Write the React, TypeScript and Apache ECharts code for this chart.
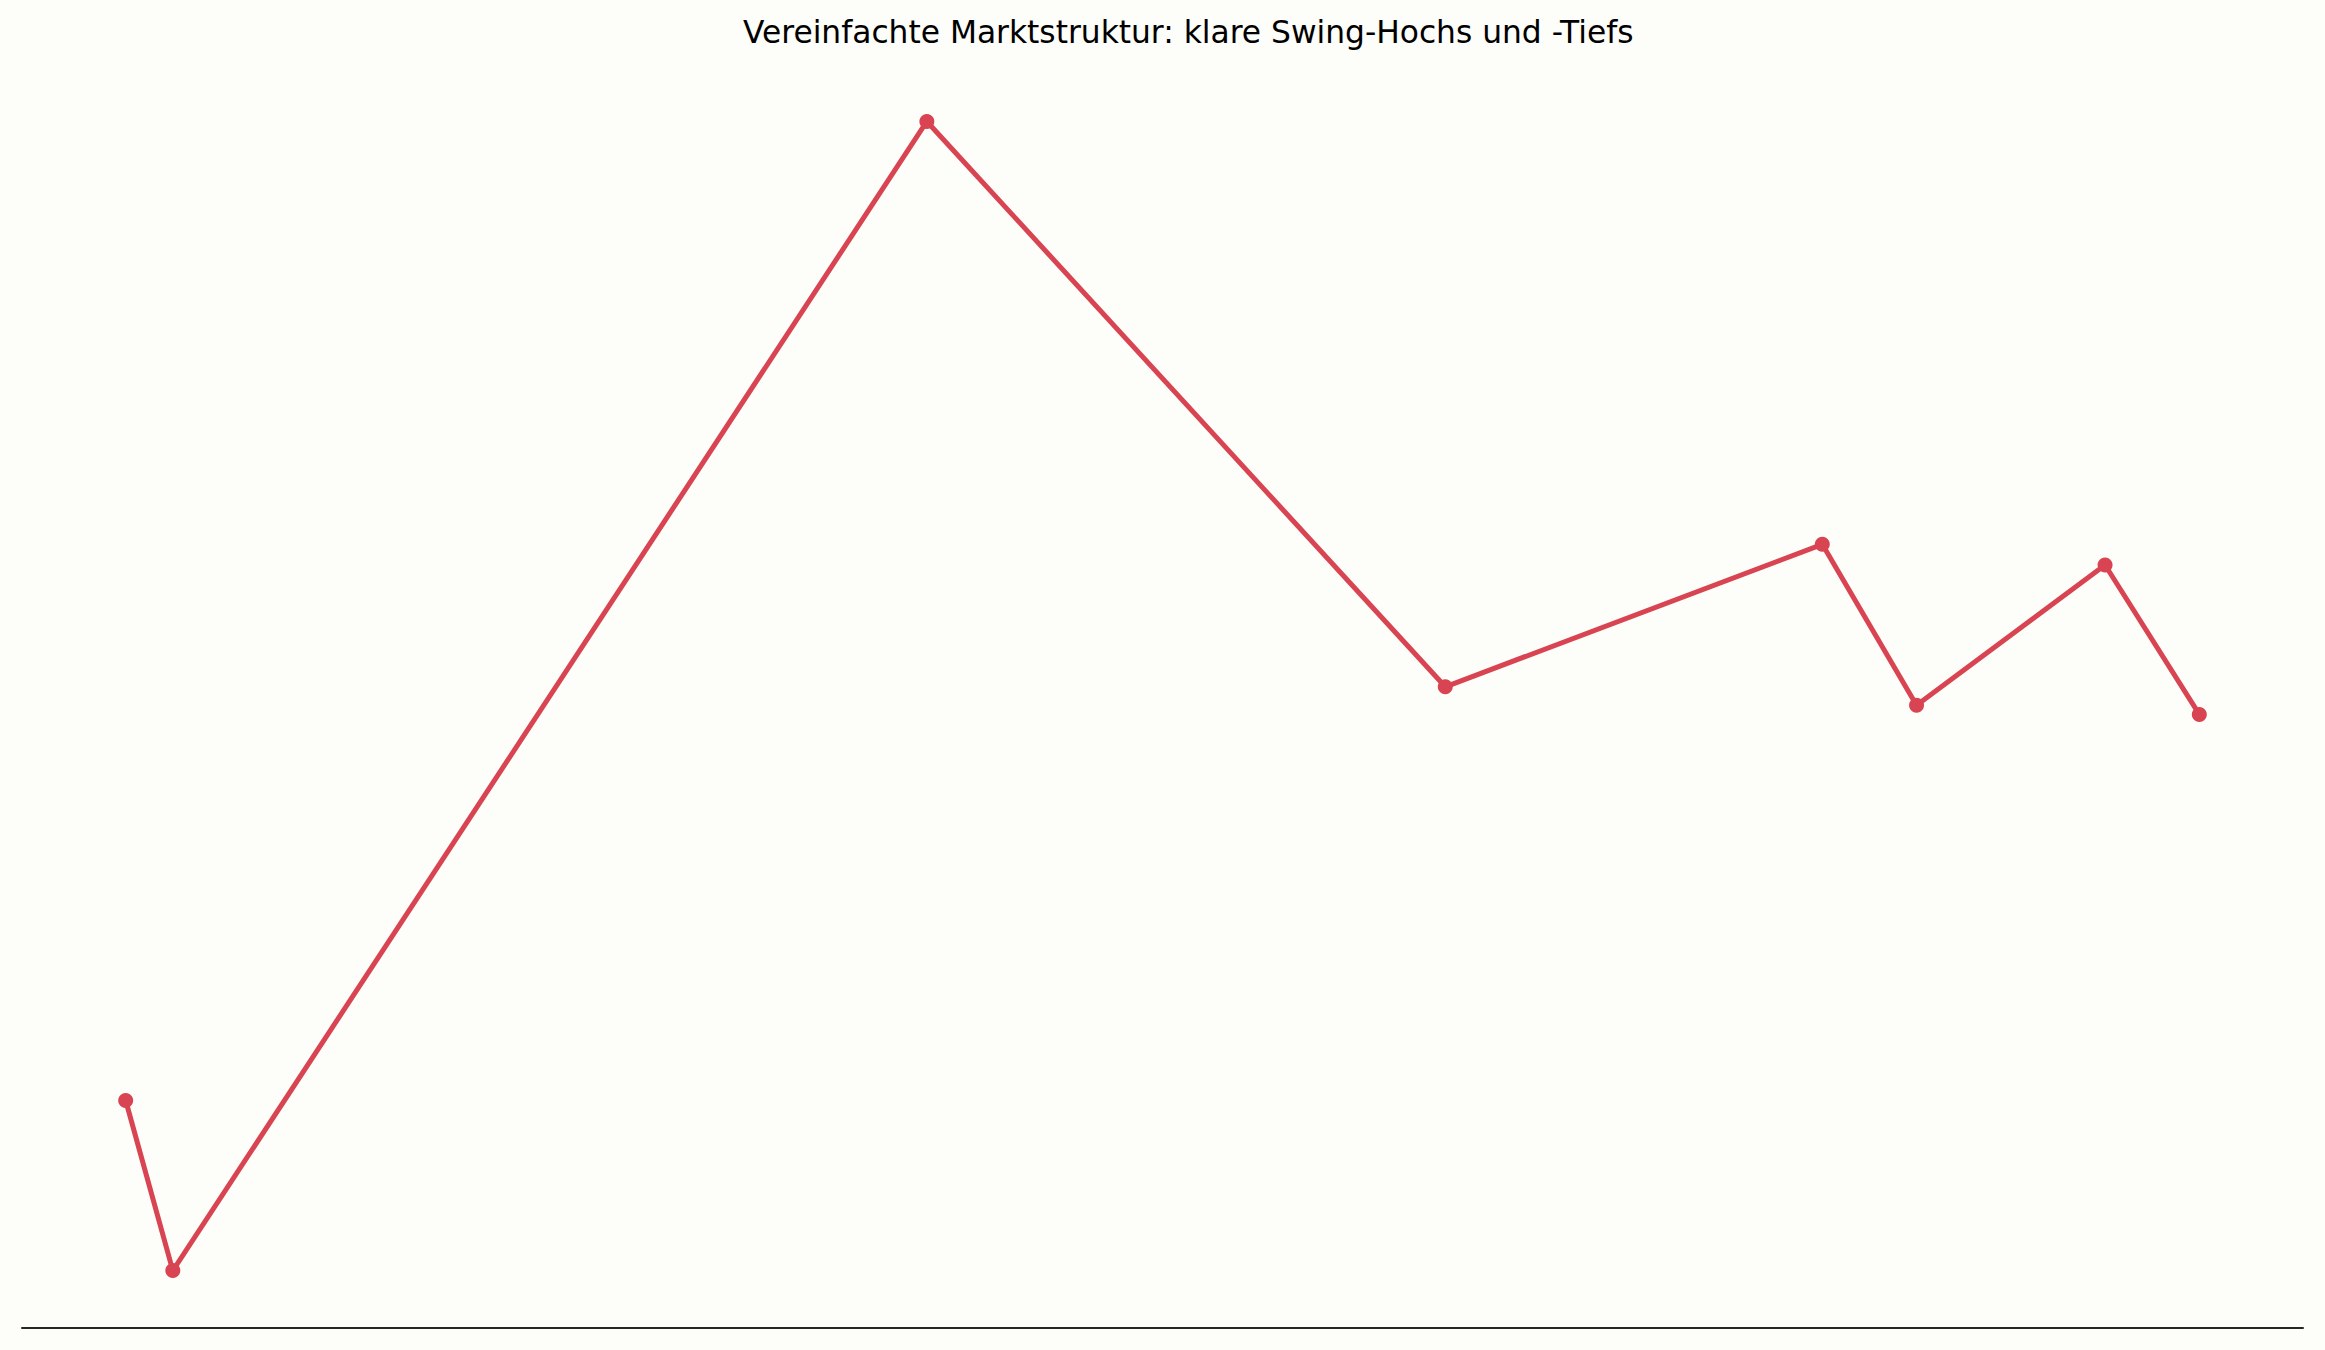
import React, { useEffect, useRef } from "react";
import * as echarts from "echarts";

const TITLE = "Vereinfachte Marktstruktur: klare Swing-Hochs und -Tiefs";
const swingX = [0, 1, 17, 28, 36, 38, 42, 44];
const swingY = [107.4, 100, 150, 125.4, 131.6, 124.6, 130.7, 124.2];

const W = 2325;
const H = 1350;

export default function App() {
  const ref = useRef<HTMLDivElement>(null);
  useEffect(() => {
    document.body.style.margin = "0";
    const chart = echarts.init(ref.current!, null, { renderer: "svg" });
    chart.setOption({
      animation: false,
      backgroundColor: "#fdfdf9",
      title: {
        text: TITLE,
        left: 738,
        top: 11,
        textStyle: {
          fontFamily: "DejaVu Sans",
          fontWeight: "normal",
          fontSize: 31.3,
          color: "#000000",
        },
      },
      grid: { left: 22, right: 22, top: 64, bottom: 22, containLabel: false },
      xAxis: {
        type: "value",
        min: -2.2,
        max: 46.2,
        axisLine: { show: true, onZero: false, lineStyle: { color: "#262626", width: 2 } },
        axisTick: { show: false },
        axisLabel: { show: false },
        splitLine: { show: false },
      },
      yAxis: {
        type: "value",
        min: 97.5,
        max: 152.5,
        show: false,
        splitLine: { show: false },
      },
      series: [
        {
          type: "line",
          data: swingX.map((x, i) => [x, swingY[i]]),
          symbol: "circle",
          symbolSize: 15,
          showSymbol: true,
          lineStyle: { color: "#d94452", width: 5 },
          itemStyle: { color: "#d94452" },
          emphasis: { disabled: true },
        },
      ],
    });
    return () => chart.dispose();
  }, []);
  return <div ref={ref} style={{ width: W, height: H }} />;
}
